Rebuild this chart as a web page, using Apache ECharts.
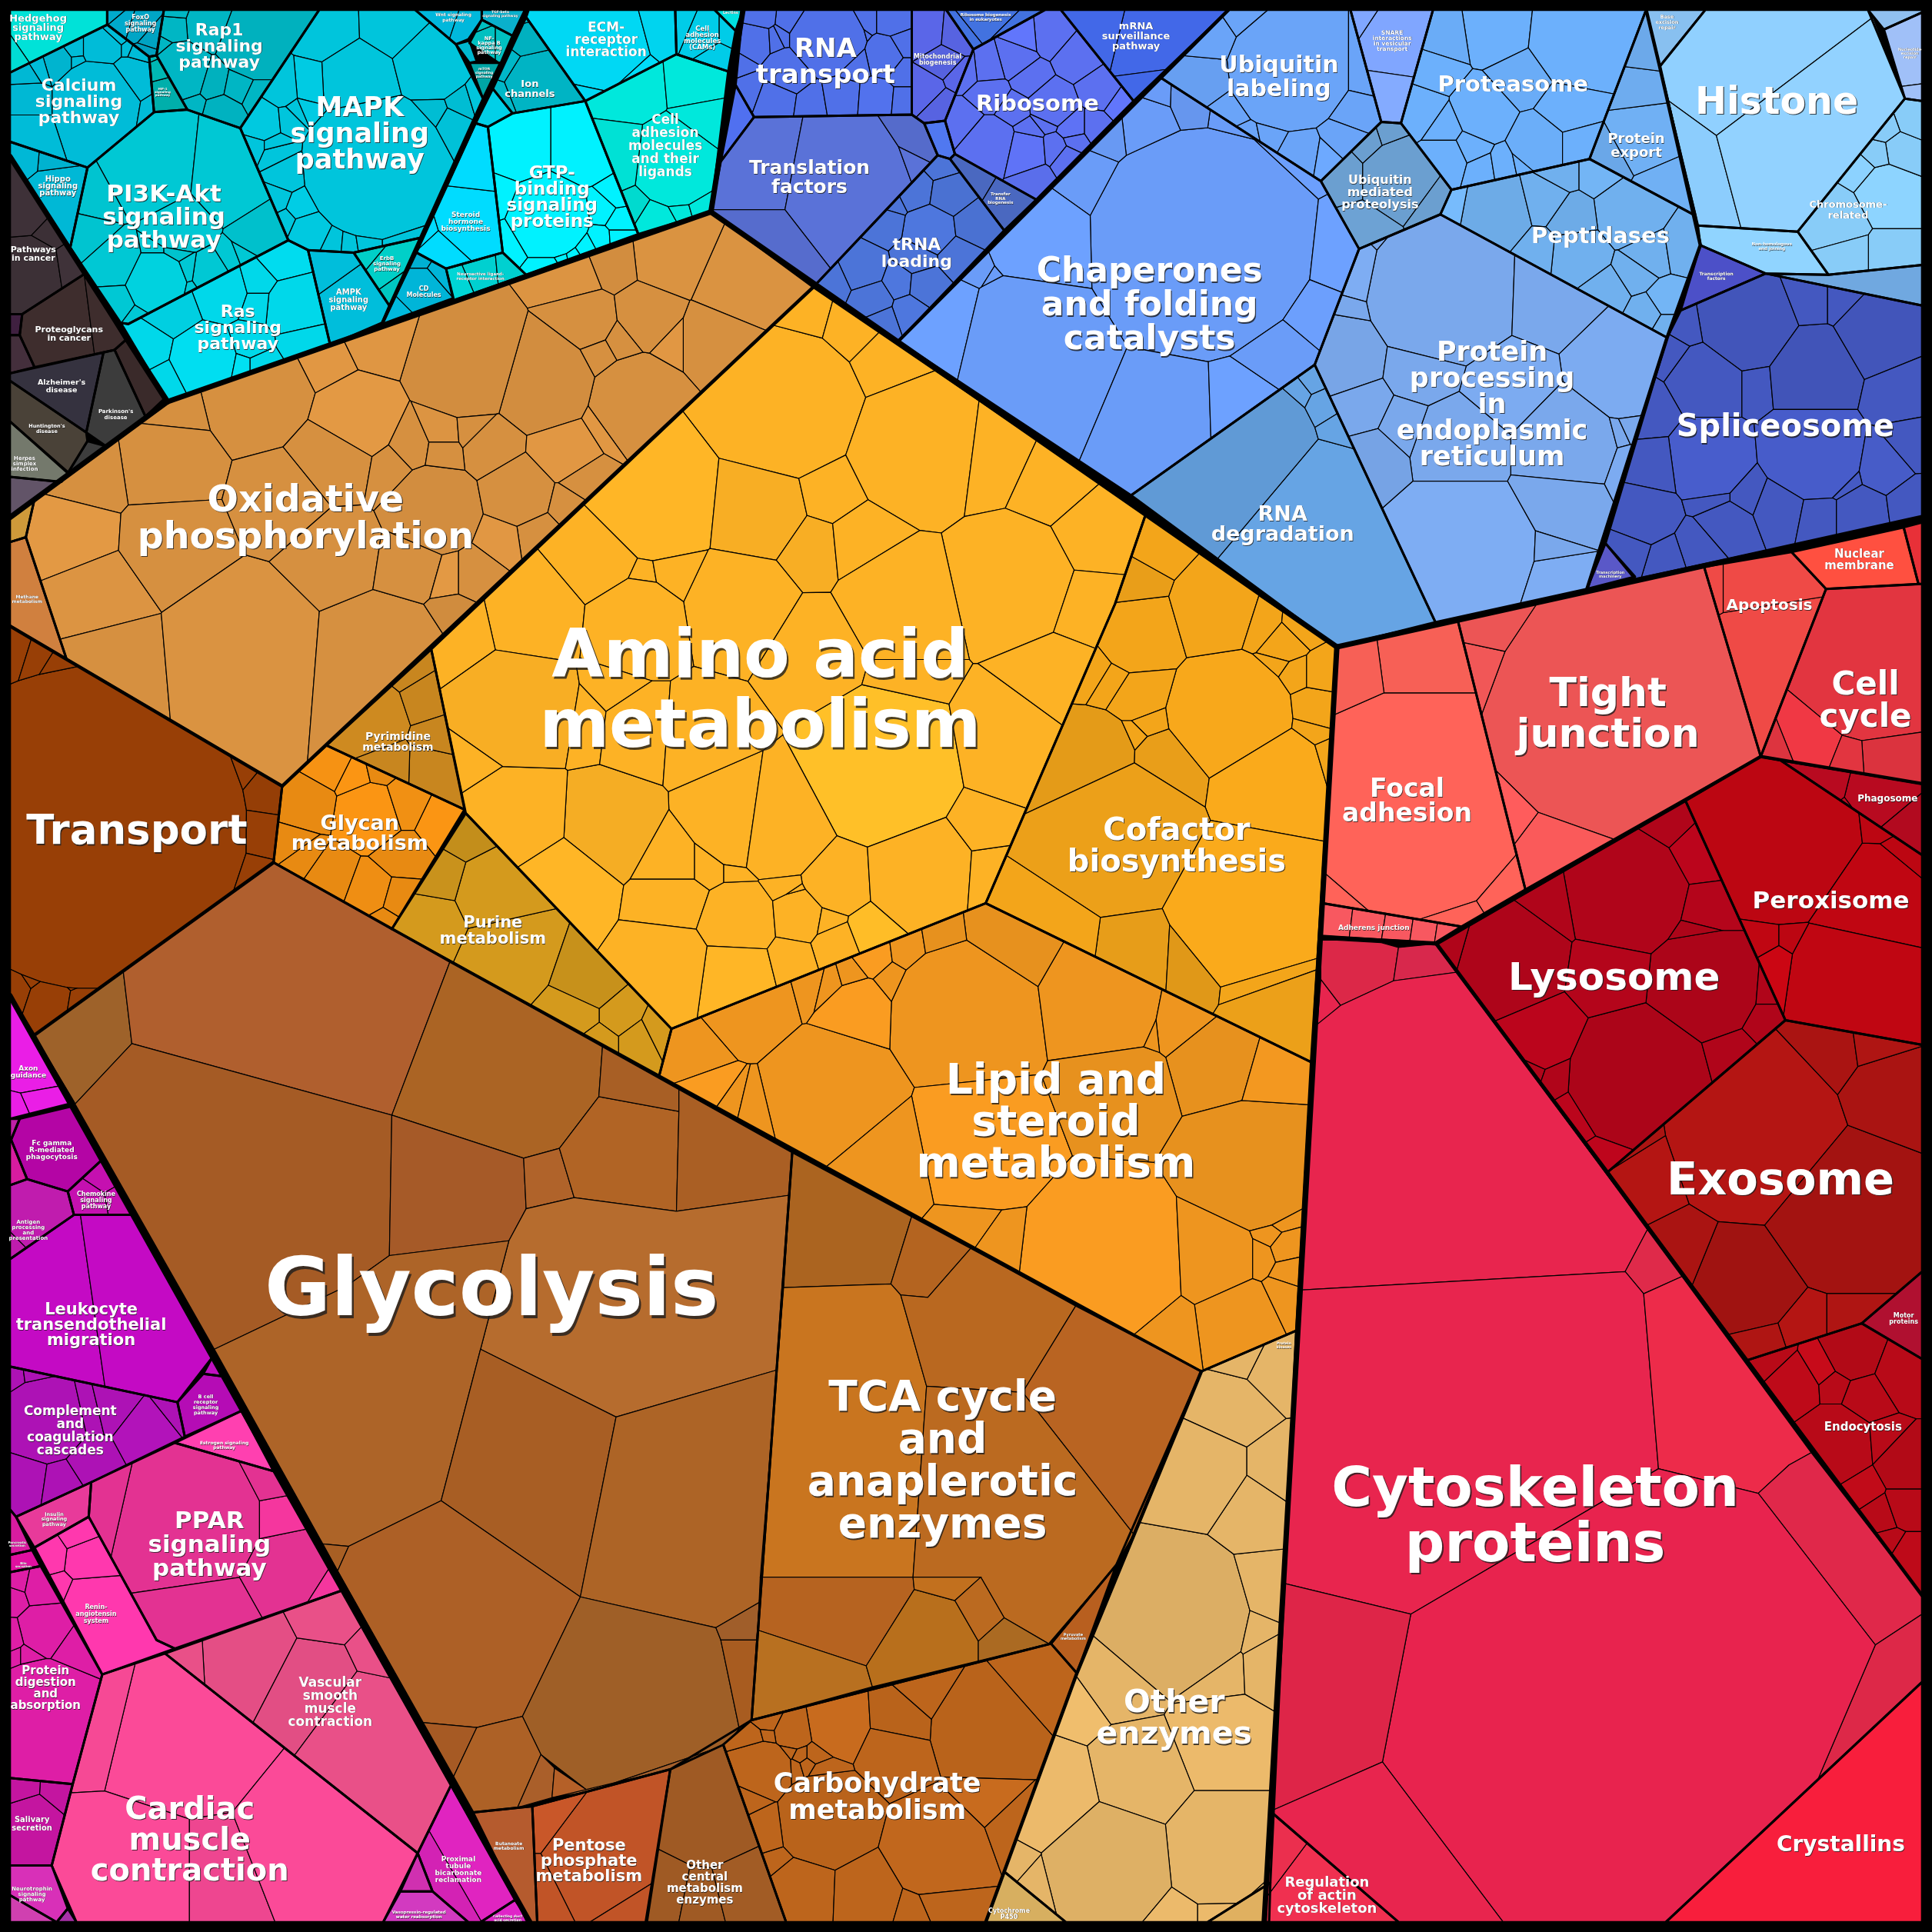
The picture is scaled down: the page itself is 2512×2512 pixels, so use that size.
<!DOCTYPE html>
<html>
<head>
<meta charset="utf-8">
<title>Proteomap</title>
<script src="https://cdn.jsdelivr.net/npm/echarts@6/dist/echarts.min.js"></script>
<style>html,body{margin:0;padding:0;background:#000}#chart{width:2512px;height:2512px}</style>
</head>
<body>
<div id="chart"></div>
<script>
// Proteome map: pathways are convex polygons, each split into protein cells,
// either listed directly or by a power diagram of seeds [x, y, radius, brightness %].
const pathwayFill = {
  hedgehog:'#00e2d8',foxo:'#00aacc',rap1:'#00b6c4',hif:'#00b8b4',calcium:'#00bcd8',hippo:'#00b8d6',pi3k:'#00c8d4',ras:'#00d8ea',ampk:'#00bedb',erbb:'#00cfc8',
  mapk:'#00c5dc',wnt:'#00b8dc',tgf:'#0ab0cc',nfkb:'#00c0c0',tiny1:'#00b8d0',mtor:'#00a5a5',ion:'#00b8c8',tiny2:'#00d0e8',steroid:'#00dcff',cd:'#00b5d8',
  neuro:'#00d0d0',gtp:'#00f2ff',ligands:'#00e8dc',ecm:'#00d8f4',cams:'#00cce8',lectins:'#00e0e0',
  cancer:'#3c3036',proteo:'#3e2d2d',tiny3:'#3f2040',viral:'#442f3c',sle:'#3a2a2a',alz:'#35323f',park:'#3c3c3c',hunt:'#4a4238',tiny4:'#3d3d3d',herpes:'#74796c',last:'#625468',
  oxphos:'#d69040',tiny5:'#cf9a3a',methane:'#d0803f',transport:'#983f06',glycan:'#e88a12',pyrim:'#c8861f',purine:'#d49a1d',amino:'#fdb225',cofactor:'#f3a51a',lipid:'#ee951f',
  pyruvate:'#b85f1f',carb:'#bd651c',central:'#9f5a24',pentose:'#c15427',butanoate:'#b55b2e',enzymes:'#e5b568',p450:'#d7af60',folate:'#e0b060',
  axon:'#ea1ee6',tiny6:'#c020a8',fc:'#b405a5',tiny7:'#d81ca0',chemokine:'#c510b0',antigen:'#c01cae',leuko:'#c40ac4',tiny8:'#c010c0',bcell:'#b50cb5',complement:'#ad12b5',estrogen:'#ff40b0',
  ppar:'#e33292',insulin:'#e83a9a',renin:'#ff38ae',pancreatic:'#d81ca0',bile:'#e010a0',digestion:'#de1ea6',salivary:'#c415a0',neurotrophin:'#d830b8',chemical:'#d040b0',tiny9:'#a830a8',
  cardiac:'#fb4a98',vascular:'#e95088',proximal:'#e024c0',tiny10:'#d030b0',vasopressin:'#d23ac0',collecting:'#e025c8',
  focal:'#ff6359',adherens:'#f85860',tight:'#ec5555',apoptosis:'#ef4a46',nuclear:'#ff5040',tiny11:'#e83038',cellcycle:'#e23540',lysosome:'#b0051a',peroxisome:'#bc0612',phagosome:'#b80a20',
  exosome:'#aa1412',motor:'#b01030',endocytosis:'#b80a18',regulation:'#f03050',crystallins:'#f81e3c',
  rnatransport:'#5070e8',pleio:'#5070f0',translation:'#5a72d8',trna:'#4c74d8',transfer:'#4a68c0',ribosome:'#5c70f0',mrna:'#4268e8',ribobio:'#4272e0',mito:'#5a66e8',ribosmall:'#5078f0',
  chaperones:'#6a9cf8',rnadeg:'#66a4e4',er:'#7aa8ec',ubmed:'#6b9fd0',ublabel:'#6aa4f8',snare:'#80a6ff',proteasome:'#6cb0fc',pexport:'#70b0f4',peptidases:'#70b0ee',
  chromosome:'#88ccf8',nhej:'#90d4ff',nucexc:'#a0c0f8',baseexc:'#88c0f0',topsmall:'#90c0f0',tf:'#4c50c8',splice:'#4458c0',machinery:'#5a58c8',dnarep:'#70a8e0'
};

const pathwayOutline = {
  hedgehog:[[8,8],[87,8],[87,20],[8,59]],
  foxo:[[87,8],[133,8],[127,45],[121,46],[87,20]],
  rap1:[[133,8],[259,8],[195,104],[152,89],[127,45]],
  hif:[[121,46],[127,45],[152,89],[125,91]],
  calcium:[[8,59],[87,20],[121,46],[125,91],[71,136],[8,115]],
  hippo:[[8,115],[71,136],[57,201],[8,127]],
  pi3k:[[71,136],[125,91],[152,89],[195,104],[234,195],[104,263],[98,262],[57,201]],
  ras:[[98,262],[104,263],[234,195],[250,203],[268,280],[136,326]],
  ampk:[[250,203],[287,205],[316,248],[310,262],[268,280]],
  erbb:[[287,205],[341,193],[316,248]],
  mapk:[[259,8],[337,8],[370,36],[392,80],[341,193],[287,205],[250,203],[234,195],[195,104]],
  wnt:[[337,8],[391,8],[391,16],[380,32],[370,36]],
  tgf:[[391,8],[426,8],[416,29],[391,16]],
  nfkb:[[391,16],[416,29],[406,52],[381,35]],
  tiny1:[[370,36],[381,33],[387,50],[381,51]],
  mtor:[[381,51],[406,51],[392,80]],
  ion:[[427,14],[475,82],[416,92],[400,72]],
  tiny2:[[400,72],[416,92],[396,103],[386,100]],
  steroid:[[386,100],[396,103],[408,205],[362,218],[338,205]],
  cd:[[338,205],[362,218],[368,242],[310,263]],
  neuro:[[362,218],[408,205],[427,223],[368,244]],
  gtp:[[396,103],[416,92],[475,82],[518,190],[427,223],[408,205]],
  ligands:[[475,82],[549,44],[591,58],[577,172],[518,190]],
  ecm:[[429,8],[548,8],[549,44],[475,82],[427,14]],
  cams:[[548,8],[580,8],[597,25],[591,58],[549,44]],
  lectins:[[580,8],[603,8],[597,25]],
  cancer:[[8,127],[69,222],[18,255],[8,255]],
  tiny3:[[8,255],[18,255],[16,272],[8,272]],
  proteo:[[18,255],[69,222],[102,276],[93,284],[28,298],[16,272]],
  viral:[[8,272],[16,272],[28,298],[8,303]],
  sle:[[102,276],[133,324],[118,338],[93,284]],
  alz:[[8,303],[84,286],[70,351],[8,309]],
  park:[[84,286],[93,284],[118,338],[86,362],[70,351]],
  hunt:[[8,309],[70,351],[71,358],[55,384],[8,342]],
  tiny4:[[71,358],[86,362],[58,384],[55,384]],
  herpes:[[8,342],[56,384],[50,391],[8,387]],
  last:[[8,387],[48,391],[8,420]],
  oxphos:[[28,405],[136,326],[577,172],[660,233],[229,638],[54,535],[21,436]],
  tiny5:[[8,420],[28,405],[21,436],[8,440]],
  methane:[[8,440],[21,436],[54,535],[8,508]],
  transport:[[8,508],[54,535],[229,638],[222,700],[28,840],[8,808]],
  pyrim:[[265,605],[350,527],[377,657]],
  glycan:[[229,638],[265,605],[377,657],[318,754],[222,700]],
  purine:[[378,660],[545,835],[535,873],[318,754]],
  amino:[[350,527],[660,233],[930,417],[905,490],[800,733],[545,835],[378,660]],
  cofactor:[[930,417],[1085,525],[1064,862],[800,733],[905,490]],
  lipid:[[545,835],[800,733],[1064,862],[1052,1080],[975,1113],[535,873]],
  glycolysis:[[28,840],[222,700],[643,935],[610,1396],[544,1436],[432,1466],[384,1471]],
  tca:[[643,935],[975,1113],[906,1270],[853,1334],[610,1396]],
  pyruvate:[[906,1270],[874,1358],[853,1334]],
  carb:[[587,1416],[610,1396],[853,1334],[874,1358],[800,1560],[638,1560]],
  central:[[544,1436],[587,1416],[638,1560],[525,1560]],
  pentose:[[432,1466],[544,1436],[524,1560],[436,1560]],
  butanoate:[[384,1471],[432,1466],[436,1560],[428,1560]],
  enzymes:[[975,1113],[1052,1080],[1031,1528],[980,1560],[865,1560],[815,1519],[874,1358]],
  p450:[[815,1519],[865,1560],[800,1560]],
  folate:[[980,1560],[1031,1528],[1030,1560]],
  axon:[[8,808],[60,895],[8,908]],
  tiny6:[[8,908],[16,908],[9,925],[8,927]],
  fc:[[16,908],[58,898],[82,942],[55,967],[22,957],[9,925]],
  tiny7:[[8,927],[9,925],[22,957],[8,962]],
  chemokine:[[55,967],[82,942],[107,986],[60,986]],
  antigen:[[8,962],[22,957],[55,967],[60,986],[8,1022]],
  leuko:[[8,1022],[60,986],[107,986],[172,1102],[144,1138],[8,1109]],
  tiny8:[[172,1102],[181,1117],[165,1115]],
  bcell:[[165,1115],[181,1117],[196,1145],[150,1166],[144,1138]],
  complement:[[8,1109],[144,1138],[150,1166],[74,1203],[13,1231],[8,1225]],
  estrogen:[[142,1171],[196,1145],[222,1194]],
  ppar:[[74,1203],[142,1171],[222,1194],[277,1291],[142,1338],[127,1331],[72,1231]],
  insulin:[[13,1231],[74,1203],[72,1231],[28,1256]],
  renin:[[28,1256],[72,1231],[127,1331],[142,1338],[83,1359]],
  pancreatic:[[8,1225],[13,1231],[26,1258],[8,1262]],
  bile:[[8,1262],[26,1258],[33,1271],[8,1276]],
  digestion:[[8,1276],[33,1271],[83,1359],[59,1448],[8,1443]],
  salivary:[[8,1443],[59,1448],[42,1514],[8,1514]],
  neurotrophin:[[8,1514],[42,1514],[55,1549],[46,1560],[8,1538]],
  chemical:[[8,1538],[46,1560],[8,1560]],
  tiny9:[[55,1549],[62,1560],[46,1560]],
  cardiac:[[83,1359],[134,1342],[339,1504],[311,1560],[62,1560],[42,1514],[59,1448]],
  vascular:[[134,1342],[277,1291],[366,1449],[339,1504]],
  proximal:[[339,1504],[366,1449],[418,1542],[390,1560],[380,1560],[351,1535]],
  tiny10:[[339,1504],[351,1535],[325,1535]],
  vasopressin:[[325,1535],[351,1535],[380,1560],[311,1560]],
  collecting:[[418,1542],[430,1560],[390,1560]],
  focal:[[1085,525],[1183,503],[1238,722],[1186,752],[1073,733]],
  adherens:[[1073,733],[1186,752],[1165,765],[1072,760]],
  tight:[[1183,503],[1383,460],[1429,614],[1238,722]],
  apoptosis:[[1383,460],[1454,448],[1482,478],[1429,614]],
  nuclear:[[1454,448],[1545,428],[1557,474],[1482,478]],
  tiny11:[[1545,428],[1560,424],[1560,474],[1557,474]],
  cellcycle:[[1482,478],[1560,474],[1560,636],[1429,614]],
  phagosome:[[1445,617],[1560,636],[1560,694]],
  peroxisome:[[1368,650],[1429,614],[1445,617],[1560,694],[1560,848],[1449,828]],
  lysosome:[[1166,766],[1368,650],[1449,828],[1305,951]],
  exosome:[[1305,951],[1449,828],[1560,848],[1560,1032],[1511,1074],[1418,1104]],
  motor:[[1511,1074],[1560,1032],[1560,1103]],
  endocytosis:[[1418,1104],[1511,1074],[1560,1103],[1560,1295]],
  cytoskeleton:[[1072,760],[1165,766],[1560,1295],[1560,1365],[1352,1560],[1135,1560],[1031,1470]],
  regulation:[[1031,1470],[1135,1560],[1027,1560]],
  crystallins:[[1352,1560],[1560,1365],[1560,1560]],
  rnatransport:[[603,8],[740,8],[740,93],[612,95],[597,69]],
  pleio:[[597,69],[612,95],[585,131]],
  translation:[[585,131],[612,95],[740,93],[750,100],[761,126],[662,231],[577,172]],
  trna:[[761,126],[771,129],[815,187],[729,277],[662,231]],
  transfer:[[771,129],[775,125],[841,162],[815,187]],
  ribosome:[[790,40],[848,8],[861,8],[920,82],[841,162],[775,125],[767,98]],
  mrna:[[861,8],[997,8],[920,82]],
  ribobio:[[768,8],[848,8],[790,40]],
  mito:[[740,8],[768,8],[790,40],[767,98],[750,100],[740,93]],
  ribosmall:[[750,100],[767,98],[775,125],[771,129],[761,126]],
  chaperones:[[942,63],[1072,147],[1103,202],[1067,296],[918,402],[729,277]],
  rnadeg:[[918,402],[1067,296],[1165,505],[1085,525]],
  er:[[1067,296],[1103,202],[1169,174],[1353,274],[1288,478],[1165,505]],
  ubmed:[[1072,147],[1121,99],[1137,100],[1178,154],[1169,174],[1103,202]],
  ublabel:[[942,63],[997,8],[1096,8],[1121,99],[1072,147]],
  snare:[[1096,8],[1163,8],[1137,100],[1121,99]],
  proteasome:[[1163,8],[1336,8],[1290,129],[1178,154],[1137,100]],
  pexport:[[1336,8],[1347,54],[1376,175],[1290,129]],
  peptidases:[[1178,154],[1290,129],[1376,175],[1380,199],[1353,274],[1169,174]],
  histone:[[1347,54],[1384,8],[1516,8],[1546,80],[1459,188],[1378,183]],
  baseexc:[[1336,8],[1384,8],[1347,54]],
  chromosome:[[1546,80],[1560,82],[1560,215],[1484,223],[1459,188]],
  nhej:[[1378,183],[1459,188],[1484,223],[1433,222],[1380,199]],
  nucexc:[[1529,24],[1560,10],[1560,82],[1546,80]],
  topsmall:[[1516,8],[1560,8],[1560,10],[1529,24]],
  dnarep:[[1433,222],[1484,223],[1560,215],[1560,248]],
  tf:[[1380,199],[1433,222],[1364,252]],
  splice:[[1364,252],[1433,222],[1560,248],[1560,420],[1327,470],[1303,441],[1353,274]],
  machinery:[[1303,441],[1327,468],[1288,478]]
};

// Large cells read vertex by vertex: [fill, vertices].
const listedCells = {
  glycolysis:[
    ['#9e622a',[[28,840],[100,788],[107,847],[61,896]]],
    ['#b05f2e',[[100,788],[222,700],[365,781],[318,905],[107,847]]],
    ['#a55b25',[[107,847],[318,905],[316,1019],[281,1044],[174,1095],[61,896]]],
    ['#ab6424',[[365,781],[489,849],[486,890],[454,932],[425,940],[318,905]]],
    ['#a65a28',[[318,905],[425,940],[427,981],[413,1007],[316,1019]]],
    ['#b0632a',[[425,940],[454,932],[466,972],[427,981]]],
    ['#b16425',[[454,932],[486,890],[551,902],[549,983],[466,972]]],
    ['#a85f25',[[489,849],[551,884],[551,902],[486,890]]],
    ['#aa5f24',[[551,884],[643,935],[641,970],[549,983],[551,902]]],
    ['#b66c2e',[[413,1007],[427,981],[466,972],[549,983],[641,970],[630,1112],[500,1150],[390,1095]]],
    ['#ad6428',[[174,1095],[281,1044],[316,1019],[413,1007],[390,1095],[358,1218],[283,1255],[262,1253]]],
    ['#a85e24',[[390,1095],[500,1150],[471,1296],[358,1218]]],
    ['#ad6426',[[500,1150],[630,1112],[617,1300],[581,1321],[471,1296]]],
    ['#a85f24',[[262,1253],[283,1255],[274,1275]]],
    ['#ad6026',[[274,1275],[283,1255],[358,1218],[471,1296],[424,1393],[387,1402],[343,1398]]],
    ['#9f5f27',[[471,1296],[581,1321],[585,1331],[600,1403],[590,1416],[478,1454],[439,1424],[424,1393]]],
    ['#a05e2a',[[581,1321],[617,1300],[614,1331],[585,1331]]],
    ['#a85c20',[[585,1331],[614,1331],[610,1396],[590,1416],[600,1403]]],
    ['#a65a24',[[343,1398],[387,1402],[368,1442]]],
    ['#ad6126',[[387,1402],[424,1393],[439,1424],[420,1467],[384,1471],[368,1442]]],
    ['#aa5f2a',[[439,1424],[450,1435],[448,1459],[420,1467]]],
    ['#b56028',[[450,1435],[478,1454],[448,1459]]],
    ['#a5602c',[[478,1454],[590,1416],[544,1436],[448,1459]]]
  ],
  tca:[
    ['#ab6420',[[643,935],[740,987],[723,1042],[636,1045]]],
    ['#b46420',[[740,987],[788,1013],[753,1053],[731,1051],[723,1042]]],
    ['#c9751f',[[636,1045],[723,1042],[731,1051],[752,1125],[741,1280],[617,1280]]],
    ['#b96820',[[753,1053],[788,1013],[873,1060],[830,1130],[752,1125],[731,1051]]],
    ['#b96422',[[873,1060],[975,1113],[920,1245],[830,1130]]],
    ['#bb6a20',[[752,1125],[830,1130],[920,1245],[906,1270],[851,1334],[815,1313],[796,1280],[741,1280]]],
    ['#b66320',[[617,1280],[741,1280],[742,1290],[703,1352],[615,1323]]],
    ['#b87020',[[615,1323],[703,1352],[708,1369],[610,1396]]],
    ['#b86f1c',[[703,1352],[742,1290],[775,1299],[794,1332],[794,1348],[708,1369]]],
    ['#c2701e',[[741,1280],[796,1280],[775,1299],[742,1290]]],
    ['#bb6a20',[[775,1299],[796,1280],[815,1313],[794,1332]]],
    ['#ab6a22',[[815,1313],[851,1334],[794,1348],[794,1332]]]
  ],
  cytoskeleton:[
    ['#dc2848',[[1072,763],[1085,763],[1121,765],[1135,769],[1131,796],[1088,816],[1072,795]]],
    ['#d8284c',[[1135,769],[1165,766],[1183,789],[1131,796]]],
    ['#e8254e',[[1072,795],[1088,816],[1069,833]]],
    ['#e8254e',[[1067,833],[1088,816],[1131,796],[1183,789],[1337,998],[1319,1032],[1055,1047]]],
    ['#df2a4a',[[1337,998],[1365,1036],[1334,1050],[1319,1032]]],
    ['#e8254e',[[1055,1047],[1319,1032],[1334,1050],[1346,1192],[1145,1310],[1042,1285]]],
    ['#ed2b4a',[[1334,1050],[1365,1036],[1470,1179],[1452,1189],[1427,1212],[1346,1192]]],
    ['#e0284a',[[1452,1189],[1470,1179],[1560,1295],[1560,1310],[1522,1335],[1427,1212]]],
    ['#dd2848',[[1522,1335],[1560,1310],[1560,1365],[1475,1445]]],
    ['#e8234e',[[1145,1310],[1346,1192],[1427,1212],[1522,1335],[1475,1445],[1352,1560],[1220,1560],[1122,1430]]],
    ['#de2548',[[1042,1285],[1145,1310],[1122,1430],[1031,1470]]],
    ['#e8254e',[[1031,1470],[1122,1430],[1220,1560],[1135,1560]]]
  ],
  histone:[
    ['#90d0ff',[[1347,54],[1384,8],[1516,8],[1520,14],[1393,110],[1353,81]]],
    ['#8ccdfd',[[1353,81],[1393,110],[1413,185],[1378,183]]],
    ['#92d2ff',[[1393,110],[1520,14],[1546,80],[1459,188],[1413,185]]]
  ]
};

const cellSeeds = {
  hedgehog:[[45,28,28],[10,52,3,-2]],
  foxo:[[100,18,8],[113,22,9,-3],[122,30,7,-5],[95,12,5],[118,42,3,-6]],
  rap1:[[208,35,28,-3],[146,58,22],[168,20,15],[173,66,10,-3],[193,70,9],[208,77,7],[181,92,12,-2],[141,22,8],[142,10,4],[155,85,3],[131,40,3]],
  hif:[[133,77,8,-5],[127,54,5],[124,47,2]],
  calcium:[[79,83,34],[83,40,15],[21,83,16,-2],[21,102,15],[104,65,18],[48,50,10,-4],[61,40,6],[62,50,4],[31,55,3],[20,62,8,-2],[120,90,4],[94,28,8],[110,43,4],[103,40,2]],
  hippo:[[46,162,25],[42,131,7,-3],[19,129,9]],
  pi3k:[[125,135,42],[183,141,38],[146,175,28],[83,158,18,-2],[75,193,15,-2],[92,212,20],[212,187,20,-4],[127,229,24,5],[94,245,13],[171,223,14],[150,220,7],[141,205,6,-3],[187,213,6],[200,208,6],[110,257,4],[154,235,2],[127,205,2]],
  ras:[[229,208,15,2],[239,248,20],[179,235,20],[208,227,10],[139,250,18,-4],[119,281,14],[166,291,24,3],[245,275,8],[202,279,8],[196,297,4,4],[210,297,4],[133,308,5],[208,245,5]],
  ampk:[[284,250,20],[261,218,9]],
  erbb:[[312,218,10],[300,208,2],[322,232,3,-4]],
  mapk:[[305,135,58],[263,23,22],[320,21,22],[291,67,30],[350,52,28],[366,102,12,-2],[351,93,10,-4],[374,85,7,-4],[387,81,3],[252,69,13,3],[229,71,13],[212,98,14,2],[224,127,8],[231,141,12],[224,160,8],[245,168,9,4],[251,187,13,2],[233,179,3],[272,197,4],[283,198,4],[296,196,3],[241,88,3],[233,96,4],[248,85,4,3],[206,119,5],[222,119,3],[325,196,4]],
  wnt:[[360,14,7],[378,20,5]],
  nfkb:[[396,30,7],[392,20,3],[404,30,4]],
  ion:[[437,67,24,-2],[429,31,13,-4],[404,80,4],[413,52,6],[426,19,3]],
  tiny2:[[398,88,6]],
  steroid:[[379,177,24],[385,125,28],[358,200,10],[346,187,5],[394,102,2]],
  gtp:[[424,119,22],[474,119,26],[445,177,32],[408,162,4],[418,193,9],[489,171,8],[502,179,7],[499,160,4],[487,193,5],[502,192,4],[474,200,5],[445,214,5],[455,208,2],[465,206,2]],
  ligands:[[549,135,32],[507,65,25],[564,60,14],[499,129,20,-3],[572,104,9],[532,179,12],[516,169,4,-6],[552,168,2],[566,164,2]],
  ecm:[[487,37,35],[539,23,9,-2],[508,60,12,2],[479,75,3]],
  cams:[[570,27,12],[556,21,6],[582,46,6],[591,27,3]],
  cd:[[341,233,14],[341,210,4,-3],[356,220,4],[318,256,3,3]],
  neuro:[[391,220,9],[412,218,3],[370,229,4,3]],
  cancer:[[25,217,20],[21,167,18,3],[58,212,4,5],[42,187,4]],
  proteo:[[48,271,25],[87,266,10]],
  oxphos:[[595,230,25,2],[545,208,28,2],[577,274,22],[517,327,35],[500,213,12,-2],[467,226,9,3],[476,261,20],[527,255,22],[547,274,6,5],[501,276,6],[485,285,8],[440,309,38,-2],[380,292,45,-2],[262,292,14,5],[307,270,22,4],[211,318,38],[288,340,30,6],[137,336,12],[133,375,30],[73,384,22],[60,436,25,6],[78,482,28,3],[137,441,30],[92,537,28],[197,528,55,2],[311,537,50],[275,449,25],[233,401,24],[270,371,28],[353,414,33,-2],[334,458,20],[421,401,25],[398,362,16],[458,366,20,5],[499,340,15,5],[472,388,9],[458,410,8],[435,432,14],[408,436,12,5],[385,467,14],[366,467,8,6],[371,498,7,-3],[334,362,8],[359,351,6,3],[359,366,5],[385,349,7],[316,379,6]],
  transport:[[70,672,130],[215,646,12,-2],[211,673,12],[201,716,14],[192,627,5],[10,800,12],[40,810,14],[70,815,12],[60,790,8],[25,790,8],[12,530,10],[28,535,8],[44,545,7]],
  pyrim:[[301,580,22,3],[346,565,10],[332,542,8],[351,626,14],[318,625,6],[357,599,5]],
  glycan:[[301,660,24,8],[357,667,12,8],[268,622,8,6],[251,652,12],[326,652,16,4],[290,633,8,8],[307,629,5],[268,713,16],[298,724,14,3],[326,692,10],[323,731,7],[245,697,8],[240,690,3],[312,749,6]],
  purine:[[413,773,30],[402,724,28],[480,796,20,-6],[468,822,14],[502,822,10],[354,747,12],[360,712,10,-5],[379,679,7,-8],[519,845,6],[535,837,4],[485,845,6]],
  amino:[[714,622,62,8],[820,603,40],[602,663,42],[491,667,32,-3],[418,663,40],[452,716,33,2],[630,667,45],[680,713,26],[747,709,42],[803,713,20],[797,671,12],[552,701,16],[552,731,20],[599,747,30],[597,788,28,2],[546,781,28],[597,701,12],[574,701,15],[647,743,20],[644,732,10],[669,747,8],[636,720,8],[677,766,12],[708,754,12,6],[641,777,14],
    [636,327,58],[655,255,12],[691,265,16],[716,290,12],[745,365,50],[533,406,48,2],[614,414,36,-2],[673,401,15],[659,445,18,-2],[700,441,22],[600,493,42],[485,454,30],[522,471,14],[545,467,16],[433,498,35],[375,511,20],[517,506,38],[421,576,46,-2],[476,585,14],[499,563,12],[517,590,26],[572,594,32],[800,372,26],[850,395,16],[885,435,18],[820,470,46],[880,490,14],[730,490,45],[660,530,38],[855,555,28],[730,550,14],[390,620,12]],
  cofactor:[[998,582,50,2],[923,515,30],[985,497,28],[1042,522,14],[1064,575,12],[918,473,18,-4],[927,562,16],[887,620,35,-6],[949,622,30,-4],[1029,633,45,3],[914,678,60,-3],[1011,731,62,3],[927,769,22,-5],[962,771,15,-8],[1025,778,15],[938,591,9],[927,602,5],[1050,480,8],[1073,620,6],[860,760,8],[1040,820,12,-3],[932,448,8],[892,540,5],[905,548,5],[1051,546,8],[1038,537,5],[1069,546,7],[1060,590,5],[1029,511,8],[1051,513,9]],
  lipid:[[602,807,38],[781,822,56],[675,890,50],[898,807,45],[820,762,30,-3],[697,819,22,5],[992,860,30,-3],[1015,947,50,-3],[792,928,50,5],[898,1023,65,5],[909,883,28,-3],[981,1019,36],[1003,1068,28],[942,1076,25],[719,943,40],[558,845,22],[1020,868,18,2],[959,819,22],[931,822,8],[786,1000,14],[803,1012,12],[658,792,6],[675,796,4],[689,792,5],[708,777,8,5],[739,773,8],[764,769,10,-3],[725,796,5],[1037,989,5],[1043,1011,4],[1029,1000,4],[1020,1019,6],[1048,1034,5],[1043,1049,5],[591,902,4],[574,890,6,5],[608,906,4]],
  carb:[[840,1363,22],[798,1400,38,-2],[679,1399,22,6],[730,1396,18,-2],[752,1371,16],[725,1421,20],[670,1478,38,-2],[762,1502,40,2],[766,1540,22],[652,1536,28],[702,1538,28],[743,1550,15],[633,1513,7],[620,1436,22],[624,1484,14],[611,1457,8],[625,1396,8],[643,1405,14],[613,1411,3],[624,1408,3],[640,1420,4],[632,1428,3],[650,1425,3],[660,1425,3],[645,1435,3],[655,1432,3],[665,1438,3],[630,1435,5],[796,1467,12,6],[812,1484,6]],
  central:[[575,1470,35],[540,1540,14],[565,1545,10],[605,1535,14,2]],
  pentose:[[485,1510,40],[445,1480,8,4],[445,1530,12],[510,1550,12]],
  butanoate:[[410,1500,12]],
  enzymes:[[954,1313,58,-4],[908,1367,26],[982,1353,24],[1027,1292,8],[1013,1326,6],[1027,1351,12],[990,1415,36,3],[922,1442,42],[853,1457,45,3],[990,1500,45],[899,1509,52,-3],[826,1507,12],[876,1390,18,5],[844,1523,10],[954,1555,8,3],[991,1555,10,3],[1022,1536,6],[1000,1140,15],[1020,1225,12],[975,1195,26],[1040,1195,10],[1030,1110,8],[1010,1100,6]],
  axon:[[24,860,25],[30,893,7],[14,900,3]],
  fc:[[42,932,22]],
  chemokine:[[75,975,10],[85,960,5],[92,972,5]],
  antigen:[[32,993,20],[10,1015,5]],
  leuko:[[48,1070,40],[118,1060,50]],
  bcell:[[165,1142,15]],
  complement:[[35,1153,33],[71,1145,10],[92,1140,14],[119,1161,18,3],[12,1117,3],[27,1115,3],[21,1198,15],[48,1202,11],[73,1186,12],[139,1145,3]],
  ppar:[[156,1235,55],[231,1274,30],[223,1235,14,8],[217,1203,5],[167,1310,34],[253,1288,5,8],[81,1218,4]],
  renin:[[75,1303,22],[72,1266,14],[39,1262,8],[64,1245,6],[47,1291,3]],
  digestion:[[36,1323,18],[33,1393,45],[10,1296,6],[14,1284,5],[33,1288,10],[14,1345,4],[22,1345,6],[8,1330,8],[56,1337,8]],
  salivary:[[25,1482,20],[50,1452,4],[15,1450,3]],
  cardiac:[[153,1400,55],[103,1388,12,-2],[111,1527,40],[173,1527,12,-5],[265,1491,55]],
  vascular:[[200,1342,30,-2],[256,1371,32,-3],[295,1400,40],[265,1308,10],[146,1345,4],[306,1347,2]],
  proximal:[[378,1500,18],[352,1515,10,-6]],
  focal:[[1148,655,88],[1148,528,18,-3],[1095,535,9,-3],[1215,713,6],[1175,738,4],[1086,727,5]],
  adherens:[[1085,745,8],[1110,748,10],[1135,752,8],[1155,755,6],[1175,758,4]],
  tight:[[1305,580,95],[1266,690,28,6],[1226,660,6,8],[1197,540,12,2],[1203,512,6]],
  apoptosis:[[1430,540,40],[1418,464,16],[1387,464,3]],
  cellcycle:[[1520,540,60],[1470,600,20,6],[1530,610,15,-3],[1445,610,6,-2],[1500,612,5]],
  lysosome:[[1329,875,55,-2],[1320,724,46],[1226,779,40,-1],[1384,799,42,-2],[1252,841,25,6],[1307,791,24,2],[1378,692,14,6],[1384,739,10,2],[1378,763,10,-2],[1258,735,10],[1355,668,6],[1433,803,5],[1433,827,5],[1404,855,10],[1284,903,12,6],[1306,938,6,8],[1242,863,8],[1265,871,5],[1184,767,6]],
  peroxisome:[[1445,682,66],[1511,727,42,2],[1497,791,45,2],[1442,783,14,8],[1433,767,8,2],[1452,767,4],[1530,704,12],[1513,674,6]],
  phagosome:[[1520,650,15],[1480,640,4],[1500,665,4],[1545,680,12,-3]],
  exosome:[[1426,923,68,6],[1497,982,62,-4],[1417,1038,40,-6],[1368,1018,18],[1533,887,30],[1336,954,20,6],[1465,1078,12,6],[1429,1090,10,3],[1494,859,6],[1523,855,12,3],[1497,1078,6,3],[1326,938,6]],
  endocytosis:[[1488,1173,30],[1504,1098,18,-3],[1455,1126,18,3],[1546,1114,18],[1514,1134,12],[1546,1189,18,-3],[1510,1209,12,5],[1523,1229,10],[1546,1221,10],[1478,1112,5,8],[1488,1124,4],[1526,1170,5],[1436,1106,3],[1546,1265,10,3],[1530,1255,6]],
  regulation:[[1080,1530,35],[1040,1500,12,-2]],
  rnatransport:[[612,35,12],[671,31,30],[640,58,18],[609,71,7],[631,79,14],[659,83,12],[683,79,15],[710,81,14,2],[718,46,13],[725,15,9],[646,15,12],[617,12,6],[700,15,5],[693,25,3],[733,37,6],[733,58,8],[733,83,8],[630,34,4],[636,31,3],[602,52,4],[691,52,12]],
  translation:[[619,133,35],[686,146,50],[619,198,25,-5],[740,110,10,-6],[730,130,5]],
  trna:[[763,135,7],[743,154,12],[770,158,13,-3],[755,187,18,3],[789,183,11,-3],[723,164,4],[718,181,9],[700,218,14],[745,208,12],[777,208,12],[676,229,8],[708,243,12],[730,229,8,3],[752,231,12],[738,252,8,3],[715,260,8]],
  transfer:[[790,145,12],[815,160,10]],
  ribosome:[[804,117,20],[831,123,16,3],[854,85,15],[854,27,12],[876,46,14],[893,71,12],[824,48,10],[802,54,8],[831,29,6,5],[784,56,5],[784,100,8],[834,108,7],[856,121,7],[871,104,7,2],[873,114,5],[888,104,5],[866,129,8],[839,146,10,-2],[910,83,4,5],[822,89,8],[804,77,9],[836,64,8],[849,96,5]],
  mito:[[752,28,10],[775,30,7,-3],[765,50,9,-4],[752,72,9],[778,62,5],[765,85,6,-3]],
  mrna:[[940,30,25],[890,18,5],[945,68,5]],
  ribobio:[[800,18,12],[785,30,3],[812,30,3]],
  chaperones:[[975,195,90],[1040,125,14,2],[1000,95,14],[965,90,12,-4],[933,104,22],[898,108,15,-2],[883,146,20],[846,198,40,3],[771,266,38,3],[834,281,60],[938,89,7],[950,330,25],[1010,328,20,3],[1084,207,14,3],[1065,255,12,2],[1038,287,18],[792,221,6],[808,231,3]],
  rnadeg:[[1065,414,55],[1008,366,60,-6],[1050,318,5],[1065,306,4],[1076,331,8],[1084,344,5]],
  er:[[1171,236,62],[1254,239,35],[1315,302,38,2],[1224,315,35,2],[1270,360,42],[1186,360,38],[1186,446,60,3],[1266,401,32],[1093,287,30,-2],[1107,223,20,3],[1156,296,30],[1107,328,18],[1118,369,16,-3],[1141,344,18],[1254,468,16,3],[1251,449,10],[1308,350,12],[1321,344,9],[1315,376,10,2],[1099,252,8],[1129,201,5]],
  ubmed:[[1137,140,26],[1103,191,8,2],[1126,111,5],[1114,115,5],[1088,140,5],[1167,162,4]],
  ublabel:[[1046,57,48],[982,64,12,-3],[1012,115,9],[1055,124,14],[1031,111,7],[1103,57,5],[1095,92,6],[1073,127,4,3],[985,32,10],[1000,89,6],[1088,111,7],[1010,15,5]],
  snare:[[1131,32,24],[1124,80,15,3],[1107,16,6]],
  proteasome:[[1217,25,22],[1281,32,38],[1236,64,20,-2],[1270,89,20],[1205,92,22],[1152,89,13],[1175,105,10],[1194,118,12],[1249,115,22,-1],[1277,115,14],[1175,127,14],[1171,32,9,-2],[1163,57,10],[1201,134,6],[1220,131,4],[1239,127,8]],
  pexport:[[1334,105,18],[1330,73,12,-2],[1334,41,8,-4],[1357,159,8],[1296,126,3,-5]],
  peptidases:[[1213,172,25,-3],[1323,172,25],[1277,178,14,-3],[1300,140,12,3],[1254,162,12],[1281,207,20],[1338,204,14],[1364,200,10],[1302,236,12],[1327,220,8],[1353,245,8,3],[1338,255,6],[1353,264,6],[1251,204,8],[1181,166,6,6],[1266,140,6]],
  chromosome:[[1531,156,22,4],[1489,178,22],[1543,124,12],[1524,127,9],[1512,140,10,3],[1554,96,10],[1529,105,5],[1531,207,8],[1497,207,15]],
  nucexc:[[1550,55,12],[1553,78,5]],
  splice:[[1418,264,38,-3],[1387,306,28],[1425,306,14],[1471,302,35,-4],[1524,271,30,-3],[1387,373,30,6],[1471,366,38,5],[1338,334,12],[1342,379,15],[1334,417,20],[1402,427,16],[1444,411,16],[1543,318,20],[1550,357,12],[1528,376,12,4],[1490,385,10,2],[1509,417,12],[1474,417,8],[1380,446,12],[1353,455,8],[1418,401,8],[1376,271,6],[1365,290,6],[1467,245,10],[1497,245,5],[1391,401,6],[1323,446,6],[1554,411,8]]
};

// Each row: text, x, y, font size in pixels, line height in pixels.
const labelRows = [
  ['Hedgehog\nsignaling\npathway',31,22,13,12],['FoxO\nsignaling\npathway',114,19,8,8],['Rap1\nsignaling\npathway',178,37,22,21],['HIF-1\nsignaling\npathway',132,75,4,4],
  ['Calcium\nsignaling\npathway',64,82,22,21],['Hippo\nsignaling\npathway',47,151,10,9],['PI3K-Akt\nsignaling\npathway',133,176,31,30],['Ras\nsignaling\npathway',193,266,22,21],
  ['AMPK\nsignaling\npathway',283,243,10,10],['MAPK\nsignaling\npathway',292,108,35,34],['Wnt signaling\npathway',368,14,6,7],['TGF-beta\nsignaling pathway',406,11,4.5,5],
  ['NF-\nkappa B\nsignaling\npathway',397,37,6.5,6],['mTOR\nsignaling\npathway',393,59,4.5,5],['Ion\nchannels',430,72,13,13],['ECM-\nreceptor\ninteraction',492,32,17,16],
  ['Cell\nadhesion\nmolecules\n(CAMs)',570,31,8.5,8],['Lectins',593,10,5,5],['Cell\nadhesion\nmolecules\nand their\nligands',540,118,17,17],['GTP-\nbinding\nsignaling\nproteins',448,160,23,21],
  ['Steroid\nhormone\nbiosynthesis',378,180,9,9],['CD\nMolecules',344,237,8,8],['Neuroactive ligand-\nreceptor interaction',390,224,5.5,6],['ErbB\nsignaling\npathway',314,214,7,7],
  ['Pathways\nin cancer',27,206,11,11],['Proteoglycans\nin cancer',56,271,11,11],['Alzheimer\'s\ndisease',50,313,9.5,10],['Parkinson\'s\ndisease',94,336,7,8],['Huntington\'s\ndisease',38,348,6.5,7],['Herpes\nsimplex\ninfection',20,376,7,7],
  ['RNA\ntransport',670,50,34,34],['Translation\nfactors',657,144,25,25],['tRNA\nloading',744,205,22,22],['Ribosome',842,84,29,29],['Mitochondrial\nbiogenesis',761,48,8,8],['Ribosome biogenesis\nin eukaryotes',800,14,5.5,6],
  ['mRNA\nsurveillance\npathway',922,29,13,13],['Ubiquitin\nlabeling',1038,62,30,31],['SNARE\ninteractions\nin vesicular\ntransport',1130,33,7.5,7],['Proteasome',1228,68,29,29],['Protein\nexport',1328,118,18,18],
  ['Ubiquitin\nmediated\nproteolysis',1120,156,16,16],['Peptidases',1299,191,29,29],['Histone',1442,82,49,49],['Chromosome-\nrelated',1500,170,13,14],['Base\nexcision\nrepair',1353,18,6.5,7],['Nucleotide\nexcision\nrepair',1550,43,5,5],
  ['Non-homologous\nend joining',1438,200,5.5,6],['Transcription\nfactors',1393,224,6,6],['Spliceosome',1449,346,40,40],['Chaperones\nand folding\ncatalysts',933,247,44,44],
  ['Protein\nprocessing\nin\nendoplasmic\nreticulum',1211,328,35,34],['RNA\ndegradation',1041,425,27,26],['Transfer\nRNA\nbiogenesis',812,161,5.5,5.5],['Transcription\nmachinery',1307,466,5,5],
  ['Tight\njunction',1305,579,52,53],['Focal\nadhesion',1142,650,33,32],['Apoptosis',1436,491,20,20],['Nuclear\nmembrane',1509,454,15,15],['Cell\ncycle',1514,568,42,42],['Phagosome',1532,648,12,12],['Peroxisome',1486,731,31,31],
  ['Lysosome',1310,793,50,50],['Exosome',1445,957,59,59],['Motor\nproteins',1545,1070,8,8],['Endocytosis',1512,1158,15,15],['Adherens junction',1115,753,9,9],['Cytoskeleton\nproteins',1246,1230,72,72],['Crystallins',1494,1497,28,28],['Regulation\nof actin\ncytoskeleton',1077,1538,18,17],
  ['Amino acid\nmetabolism',617,560,87,91],['Oxidative\nphosphorylation',248,420,47.5,48],['Transport',111,674,53,53],['Glycolysis',399,1046,105,105],['TCA cycle\nand\nanaplerotic\nenzymes',765,1185,55,55],
  ['Lipid and\nsteroid\nmetabolism',857,910,55,54],['Cofactor\nbiosynthesis',955,686,40,41],['Pyrimidine\nmetabolism',323,602,14,14],['Glycan\nmetabolism',292,676,27,26],['Purine\nmetabolism',400,755,21,21],['Carbohydrate\nmetabolism',712,1458,35,35],
  ['Other\nenzymes',953,1394,41,41],['Pentose\nphosphate\nmetabolism',478,1510,21,20],['Other\ncentral\nmetabolism\nenzymes',572,1528,15,15],['Butanoate\nmetabolism',413,1498,6,6],['Methane\nmetabolism',22,486,6,6],['Cytochrome\nP450',819,1553,8,8],['Pyruvate\nmetabolism',871,1328,5,5],['Protein\nkinases',1042,1092,4.5,5],
  ['Axon\nguidance',23,870,9,9],['Fc gamma\nR-mediated\nphagocytosis',42,933,9,9],['Chemokine\nsignaling\npathway',78,974,8,8],['Antigen\nprocessing\nand\npresentation',23,998,7,7],['Leukocyte\ntransendothelial\nmigration',74,1075,21,20],
  ['B cell\nreceptor\nsignaling\npathway',167,1140,6.5,7],['Complement\nand\ncoagulation\ncascades',57,1161,17,17],['Estrogen signaling\npathway',182,1173,6,6],['PPAR\nsignaling\npathway',170,1253,31,31],['Insulin\nsignaling\npathway',44,1233,6.5,6.5],
  ['Renin-\nangiotensin\nsystem',78,1310,8,9],['Vascular\nsmooth\nmuscle\ncontraction',268,1381,17,17],['Cardiac\nmuscle\ncontraction',154,1493,40,40],['Protein\ndigestion\nand\nabsorption',37,1370,15,15],['Salivary\nsecretion',26,1480,10,11],
  ['Neurotrophin\nsignaling\npathway',26,1537,7,7],['Proximal\ntubule\nbicarbonate\nreclamation',372,1517,9,9],['Vasopressin-regulated\nwater reabsorption',340,1554,5.5,6],['Collecting duct\nacid secretion',412,1557,4.5,5],['Pancreatic\nsecretion',14,1253,4,4],['Bile\nsecretion',19,1270,4,4]
];

// Heavy dividers between the top-level functional blocks.
const blockDividers = [
  [[8,127],[136,326]],[[136,326],[577,172]],[[603,8],[577,172]],[[577,172],[1085,525]],[[136,326],[8,420]],
  [[1085,525],[1560,420]],[[1085,525],[1026,1560]],[[8,808],[430,1560]]
];

// Lighter dividers between sections inside a block.
const sectionDividers = [
  [[428,8],[310,263]],[[997,8],[729,277]],[[1166,766],[1560,1295]],[[1429,614],[1166,766]],[[1072,760],[1166,766]],[[1429,614],[1560,636]],
  [[1288,478],[1353,274],[1380,199],[1347,54],[1336,8]],[[975,1113],[874,1358],[800,1560]],[[28,840],[222,700]],[[8,508],[229,638]],[[229,638],[660,233]]
];

// Clip a convex polygon to the half-plane a*x + b*y <= c.
function clipHalfPlane(poly, a, b, c) {
  const out = [];
  for (let i = 0; i < poly.length; i++) {
    const p = poly[i], q = poly[(i + 1) % poly.length];
    const dp = a * p[0] + b * p[1] - c, dq = a * q[0] + b * q[1] - c;
    if (dp <= 0) out.push(p);
    if ((dp < 0 && dq > 0) || (dp > 0 && dq < 0)) {
      const t = dp / (dp - dq);
      out.push([p[0] + t * (q[0] - p[0]), p[1] + t * (q[1] - p[1])]);
    }
  }
  return out;
}

function shade(hex, pct) {
  const f = 1 + (pct || 0) / 100;
  const ch = [1, 3, 5].map(i => Math.min(255, Math.round(parseInt(hex.substr(i, 2), 16) * f)));
  return 'rgb(' + ch.join(',') + ')';
}

// Build the drawable cells of every pathway.
const cells = [];
Object.keys(pathwayOutline).forEach(key => {
  const outline = pathwayOutline[key], seeds = cellSeeds[key];
  if (listedCells[key]) {
    listedCells[key].forEach(c => cells.push({ poly: c[1], color: c[0] }));
    return;
  }
  if (!seeds) { cells.push({ poly: outline, color: pathwayFill[key] }); return; }
  seeds.forEach((s, i) => {
    let poly = outline;
    seeds.forEach((o, j) => {
      if (i === j || !poly.length) return;
      const a = 2 * (o[0] - s[0]), b = 2 * (o[1] - s[1]);
      const c = o[0] * o[0] + o[1] * o[1] - o[2] * o[2] - s[0] * s[0] - s[1] * s[1] + s[2] * s[2];
      poly = clipHalfPlane(poly, a, b, c);
    });
    if (poly.length > 2) cells.push({ poly, color: shade(pathwayFill[key], s[3]) });
  });
});
const outlines = Object.keys(pathwayOutline).map(k => pathwayOutline[k]);

function polygonSeries(items, styleOf, type) {
  return {
    type: 'custom', coordinateSystem: 'cartesian2d', silent: true, animation: false, progressive: 0,
    clip: true,
    data: items.map((it, i) => [0, 0, i]),
    encode: { x: 0, y: 1 },
    renderItem: (params, api) => {
      const item = items[api.value(2)];
      const pts = (item.poly || item).map(p => api.coord(p));
      return { type: type, shape: { points: pts }, style: styleOf(item) };
    }
  };
}

const chart = echarts.init(document.getElementById('chart'), null, { renderer: 'canvas', width: 2512, height: 2512 });
chart.setOption({
  backgroundColor: '#000',
  animation: false,
  grid: { left: 0, right: 0, top: 0, bottom: 0 },
  xAxis: { type: 'value', min: 0, max: 1568, show: false },
  yAxis: { type: 'value', min: 0, max: 1568, inverse: true, show: false },
  series: [
    polygonSeries(cells, c => ({ fill: c.color, stroke: '#000', lineWidth: 1.2 }), 'polygon'),
    polygonSeries(outlines, () => ({ fill: 'none', stroke: '#000', lineWidth: 3, lineJoin: 'round' }), 'polygon'),
    polygonSeries(sectionDividers, () => ({ fill: 'none', stroke: '#000', lineWidth: 4.5, lineCap: 'round', lineJoin: 'round' }), 'polyline'),
    polygonSeries(blockDividers, () => ({ fill: 'none', stroke: '#000', lineWidth: 7, lineCap: 'round' }), 'polyline'),
    {
      type: 'scatter', symbolSize: 0, silent: true, animation: false, z: 10, itemStyle: { opacity: 1 },
      data: labelRows.map(r => ({
        value: [r[1], r[2]],
        label: {
          show: true, position: 'inside', formatter: r[0], color: '#fff', opacity: 1,
          fontFamily: 'DejaVu Sans', fontWeight: 'bold', fontSize: r[3], lineHeight: r[4],
          align: 'center', verticalAlign: 'middle', offset: [0, r[3] * 0.07],
          textShadowColor: 'rgba(30,30,30,0.8)', textShadowBlur: 0.5,
          textShadowOffsetX: Math.max(0.5, r[3] * 0.025), textShadowOffsetY: Math.max(0.5, r[3] * 0.03)
        }
      }))
    }
  ]
});
</script>
</body>
</html>
